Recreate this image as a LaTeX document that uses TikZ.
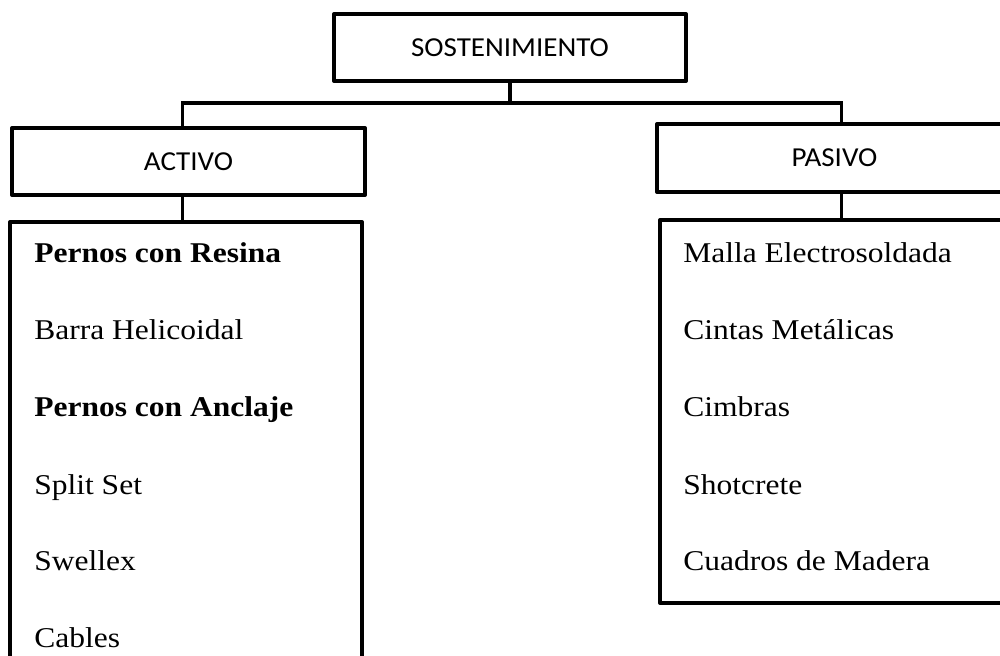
\documentclass[tikz,border=0pt]{standalone}
\usepackage{fontspec}
\setmainfont{Liberation Serif}[FakeStretch=1.1]
\setsansfont{Carlito}[FakeStretch=1.06]
\usetikzlibrary{calc}

\begin{document}
\begin{tikzpicture}[
    caja/.style={draw, line width=2.3pt, line join=round, inner sep=0pt},
    titulo/.style={caja, font=\sffamily\fontsize{15.6}{18}\selectfont},
    item/.style={anchor=base west, inner sep=0pt, font=\fontsize{16.3}{20}\selectfont},
    enlace/.style={line width=1.8pt}
  ]
      \clip (0,0) rectangle (20,13.1);

      \node[titulo, minimum width=7.04cm, minimum height=1.34cm] (sost) at (10.2,12.15) {SOSTENIMIENTO};
      \node[titulo, minimum width=7.06cm, minimum height=1.34cm] (act) at (3.77,9.87) {ACTIVO};
      \node[titulo, minimum width=7.1cm, minimum height=1.36cm] (pas) at (16.69,9.94) {PASIVO};

      \node[caja, minimum width=7.04cm, minimum height=9.16cm] (lact) at (3.72,4.08) {};
      \node[caja, minimum width=7.1cm, minimum height=7.66cm] (lpas) at (16.75,4.87) {};

      \node[item] (a1) at (0.68,7.84) {\textbf{Pernos con Resina}};
      \node[item] (a2) at (0.68,6.30) {Barra Helicoidal};
      \node[item] (a3) at (0.68,4.76) {\textbf{Pernos con Anclaje}};
      \node[item] (a4) at (0.68,3.20) {Split Set};
      \node[item] (a5) at (0.68,1.70) {Swellex};
      \node[item] (a6) at (0.68,0.16) {Cables};

      \node[item] (p1) at (13.66,7.84) {Malla Electrosoldada};
      \node[item] (p2) at (13.66,6.30) {Cintas Metálicas};
      \node[item] (p3) at (13.66,4.76) {Cimbras};
      \node[item] (p4) at (13.66,3.20) {Shotcrete};
      \node[item] (p5) at (13.66,1.70) {Cuadros de Madera};

      \draw[enlace] (sost.south) -- ++(0,-0.4) -| ([xshift=-0.12cm]act.north);
      \draw[enlace] (sost.south) -- ++(0,-0.4) -| ([xshift=0.14cm]pas.north);
      \draw[enlace] ([xshift=-0.12cm]act.south) -- ([xshift=-0.12cm]act.south |- lact.north);
      \draw[enlace] ([xshift=0.14cm]pas.south) -- ([xshift=0.14cm]pas.south |- lpas.north);
    \end{tikzpicture}
\end{document}
